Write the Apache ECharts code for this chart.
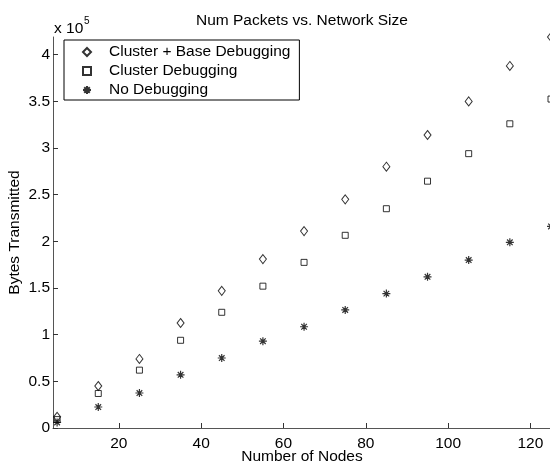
<!DOCTYPE html>
<html>
<head>
<meta charset="utf-8">
<script src="https://cdn.jsdelivr.net/npm/echarts@6/dist/echarts.min.js"></script>
<style>
  html, body { margin: 0; padding: 0; background: #fff; }
  #chart { width: 550px; height: 466px; }
</style>
</head>
<body>
<div id="chart"></div>
<script>
  // packets sent per network size
  const nodes = [5, 15, 25, 35, 45, 55, 65, 75, 85, 95, 105, 115, 125]
  const clusterBase = [12000, 45000, 74000, 112500, 147000, 181000, 211000, 245000, 280000, 314000, 350000, 388000, 419000]
  const clusterOnly = [9000, 37000, 62000, 94000, 124000, 152000, 177500, 206500, 235000, 264500, 294000, 326000, 352500]
  const noDebug = [6000, 22500, 37500, 57000, 75000, 93000, 108500, 126500, 144000, 162000, 180000, 199000, 216000]
  const seriesNames = ['Cluster + Base Debugging', 'Cluster Debugging', 'No Debugging']

  const FONT = '"Liberation Sans", Arial, sans-serif'
  const FS = 15.5
  const AXIS_COLOR = '#555'
  const TICK_COLOR = '#333'
  const asterisk = 'path://M5,0L5,10M0,5L10,5M1.5,1.5L8.5,8.5M8.5,1.5L1.5,8.5'

  const pairs = ys => nodes.map((x, i) => [x, ys[i]])

  const chart = echarts.init(document.getElementById('chart'), null, { renderer: 'canvas' })
  chart.setOption({
    animation: false,
    textStyle: { fontFamily: FONT },
    title: {
      text: 'Num Packets vs. Network Size',
      left: 196,
      top: 13,
      padding: 0,
      textStyle: { color: '#000', fontWeight: 'normal', fontSize: FS, fontFamily: FONT }
    },
    graphic: [
      { type: 'text', left: 54, top: 21, style: { text: 'x 10', fontSize: FS, fontFamily: FONT, fill: '#000' } },
      { type: 'text', left: 84, top: 16, style: { text: '5', fontSize: 10, fontFamily: FONT, fill: '#000' } }
    ],
    legend: {
      orient: 'vertical',
      left: 64,
      top: 40,
      padding: [4, 9, 2, 18],
      itemGap: 3,
      itemWidth: 8,
      itemHeight: 8,
      borderColor: '#000',
      borderWidth: 1,
      backgroundColor: '#fff',
      selectedMode: false,
      textStyle: { color: '#000', fontSize: FS, lineHeight: 15, padding: [0, 0, 0, 13], fontFamily: FONT },
      data: seriesNames
    },
    grid: { left: 53, top: 37, right: -1, bottom: 38, outerBoundsMode: 'none', containLabel: false },
    xAxis: {
      type: 'value',
      min: 4,
      max: 125,
      splitNumber: 5,
      name: 'Number of Nodes',
      nameLocation: 'middle',
      nameGap: 21,
      nameMoveOverlap: false,
      nameTextStyle: { color: '#000', fontSize: FS },
      axisLine: { lineStyle: { color: AXIS_COLOR, width: 1 } },
      axisTick: { show: true, inside: true, length: 5, lineStyle: { color: TICK_COLOR, width: 1 } },
      axisLabel: { margin: 8, color: '#000', fontSize: FS, showMinLabel: false, showMaxLabel: false },
      splitLine: { show: false }
    },
    yAxis: {
      type: 'value',
      min: 0,
      max: 419000,
      interval: 50000,
      name: 'Bytes Transmitted',
      nameLocation: 'middle',
      nameGap: 30,
      nameMoveOverlap: false,
      nameTextStyle: { color: '#000', fontSize: FS },
      axisLine: { show: true, lineStyle: { color: AXIS_COLOR, width: 1 } },
      axisTick: { show: true, inside: true, length: 5, lineStyle: { color: TICK_COLOR, width: 1 } },
      axisLabel: {
        margin: 3,
        color: '#000',
        fontSize: FS,
        showMaxLabel: false,
        formatter: v => String(v / 100000)
      },
      splitLine: { show: false }
    },
    series: [
      {
        name: seriesNames[0],
        type: 'scatter',
        symbol: 'diamond',
        symbolSize: [7, 9],
        itemStyle: { color: 'rgba(0,0,0,0)', borderColor: '#000', borderWidth: 1 },
        data: pairs(clusterBase)
      },
      {
        name: seriesNames[1],
        type: 'scatter',
        symbol: 'rect',
        symbolSize: 6,
        itemStyle: { color: 'rgba(0,0,0,0)', borderColor: '#000', borderWidth: 1 },
        data: pairs(clusterOnly)
      },
      {
        name: seriesNames[2],
        type: 'scatter',
        symbol: asterisk,
        symbolSize: 8,
        itemStyle: { color: '#000', borderColor: '#000', borderWidth: 1.2 },
        data: pairs(noDebug)
      }
    ]
  })
</script>
</body>
</html>
